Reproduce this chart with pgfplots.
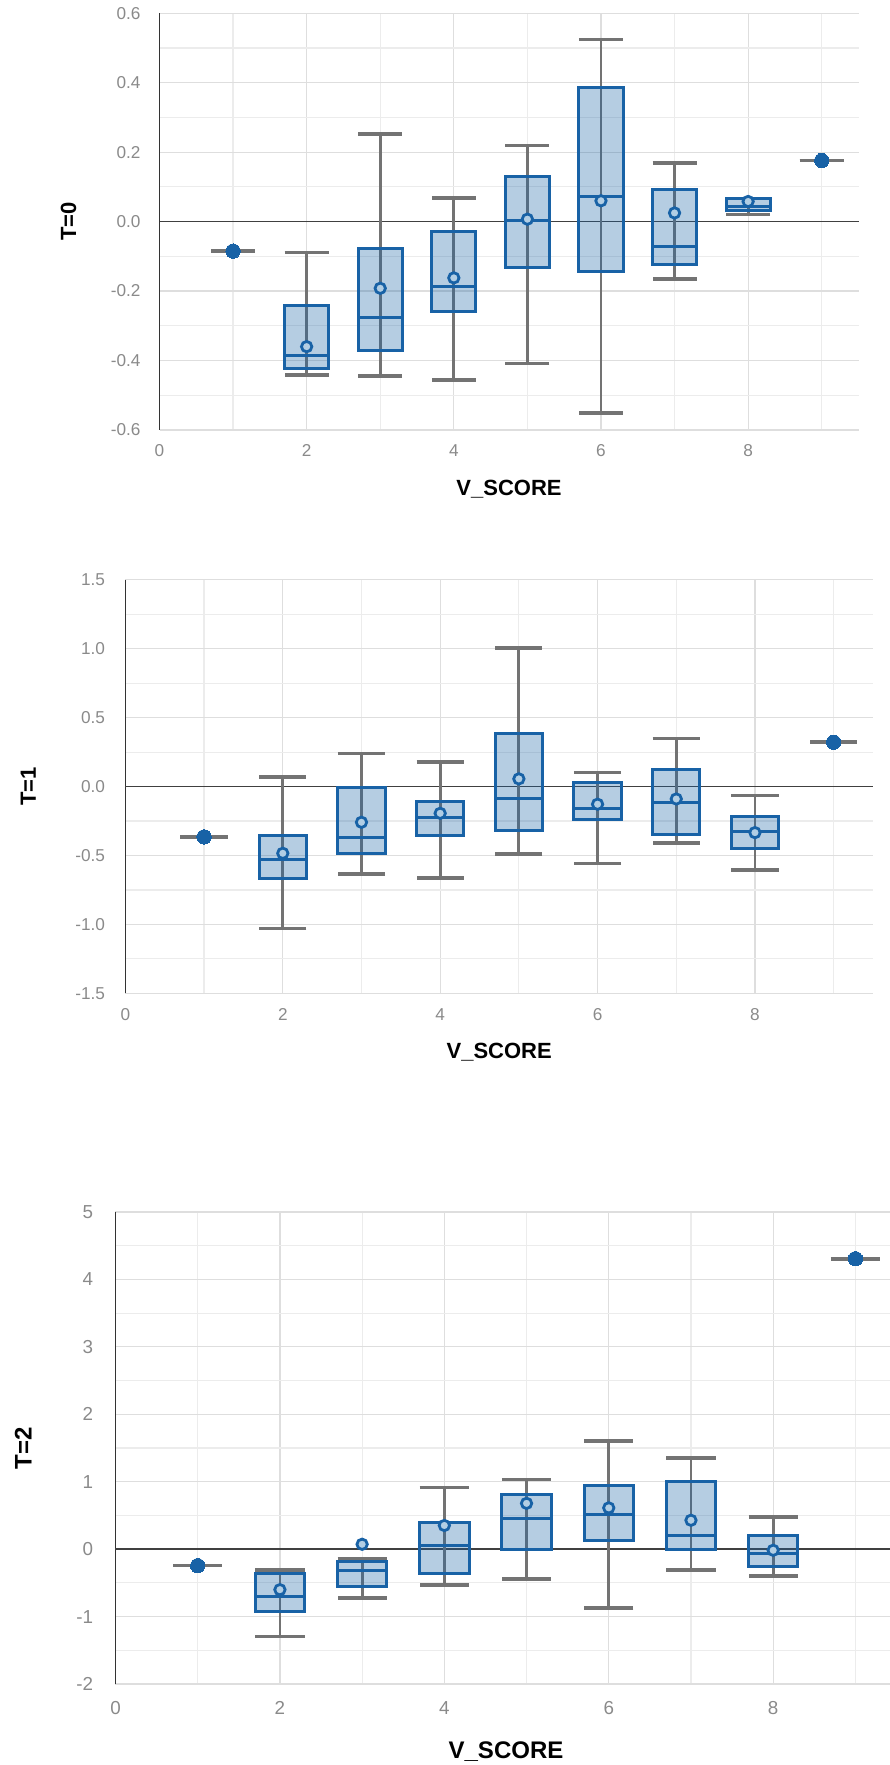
\documentclass[border=0pt]{standalone}
\usepackage{fontspec}
\setmainfont{Liberation Sans}
\usepackage{pgfplots}
\usepackage{pgfplotstable}
\pgfplotsset{compat=1.18}
\usepgfplotslibrary{statistics}

\definecolor{bblue}{RGB}{24,98,166}
\definecolor{wgray}{RGB}{115,115,115}
\definecolor{gridc}{RGB}{222,222,222}
\definecolor{gridm}{RGB}{236,236,236}
\definecolor{tickc}{RGB}{138,138,138}
\definecolor{mfill}{RGB}{178,206,228}

% x lw q1 med q3 uw avg
\pgfplotstableread{
x lw q1 med q3 uw avg
1 -0.085 -0.085 -0.085 -0.085 -0.085 -0.085
2 -0.441 -0.422 -0.386 -0.242 -0.089 -0.360
3 -0.445 -0.370 -0.276 -0.076 0.253 -0.192
4 -0.456 -0.259 -0.186 -0.028 0.068 -0.162
5 -0.408 -0.132 0.004 0.131 0.219 0.007
6 -0.551 -0.143 0.073 0.387 0.524 0.060
7 -0.165 -0.124 -0.073 0.093 0.169 0.025
8 0.021 0.032 0.044 0.067 0.067 0.058
9 0.176 0.176 0.176 0.176 0.176 0.176
}\Tzero
\pgfplotstableread{
x lw q1 med q3 uw avg
1 -0.365 -0.365 -0.365 -0.365 -0.365 -0.365
2 -1.031 -0.670 -0.530 -0.353 0.068 -0.484
3 -0.636 -0.484 -0.370 -0.010 0.240 -0.259
4 -0.665 -0.358 -0.225 -0.109 0.177 -0.194
5 -0.491 -0.322 -0.087 0.382 1.007 0.056
6 -0.559 -0.240 -0.162 0.027 0.102 -0.128
7 -0.411 -0.348 -0.116 0.121 0.348 -0.090
8 -0.607 -0.448 -0.329 -0.215 -0.065 -0.334
9 0.322 0.322 0.322 0.322 0.322 0.322
}\Tone
\pgfplotstableread{
x lw q1 med q3 uw avg
1 -0.245 -0.245 -0.245 -0.245 -0.245 -0.245
2 -1.297 -0.924 -0.701 -0.362 -0.306 -0.601
3 -0.723 -0.551 -0.317 -0.180 -0.150 0.072
4 -0.529 -0.356 0.056 0.401 0.913 0.351
5 -0.440 0.000 0.451 0.807 1.035 0.679
6 -0.874 0.122 0.512 0.940 1.603 0.612
7 -0.312 -0.011 0.200 0.996 1.352 0.428
8 -0.401 -0.262 -0.061 0.195 0.479 -0.017
9 4.307 4.307 4.307 4.307 4.307 4.307
}\Ttwo

% draw the box (q1..q3 with median) of row #2 of table #1
\newcommand\drawbox[2]{%
  \pgfplotstablegetelem{#2}{x}\of#1\let\BX\pgfplotsretval
  \pgfplotstablegetelem{#2}{q1}\of#1\let\BQA\pgfplotsretval
  \pgfplotstablegetelem{#2}{med}\of#1\let\BMD\pgfplotsretval
  \pgfplotstablegetelem{#2}{q3}\of#1\let\BQB\pgfplotsretval
  \edef\doplot{\noexpand\addplot[boxplot prepared={draw position=\BX,
     lower whisker=\BQA, lower quartile=\BQA, median=\BMD,
     upper quartile=\BQB, upper whisker=\BQB}] coordinates {};}%
  \doplot
}

\pgfplotsset{
  vs/.style={
    scale only axis, xmin=0, xmax=9.5,
    axis x line*=bottom, axis y line*=left,
    axis line style={-},
    x axis line style={draw=gridc, line width=0.6pt},
    y axis line style={draw=black!80, line width=0.7pt},
    xtick={0,2,4,6,8}, minor xtick={1,3,5,7,9},
    major tick length=0pt, minor tick length=0pt,
    grid=both,
    major grid style={draw=gridc, line width=0.6pt},
    minor grid style={draw=gridm, line width=0.6pt},
    /pgf/number format/assume math mode=true,
    tick label style={text=tickc, inner sep=0pt},
    xticklabel style={anchor=north},
    yticklabel style={anchor=east},
    extra y ticks={0}, extra y tick labels={},
    extra y tick style={grid=major, major grid style={draw=black!75, line width=0.75pt}},
    xlabel={V\_SCORE},
    every axis x label/.style={anchor=center, font=\bfseries},
    every axis y label/.style={anchor=center, rotate=90, font=\bfseries},
    boxplot/draw direction=y,
    boxplot/every box/.style={draw=bblue, line width=1.5pt, fill=bblue, fill opacity=0.32},
    boxplot/every median/.style={draw=bblue, line width=1.5pt},
    boxplot/every whisker/.style={draw=none},
    boxplot/box extend=0.6,
    boxplot/whisker extend=0.6,
  },
  whisk/.style={only marks, mark=*, mark size=0.1pt,
    mark options={draw opacity=0, fill opacity=0},
    error bars/.cd, y dir=both, y explicit,
    error bar style={draw=wgray, line width=1.4pt},
    error mark options={rotate=90, draw=wgray, draw opacity=1, line width=1.8pt, mark size=#1}},
  meanm/.style={only marks, mark=*, mark size=2.6pt,
    mark options={draw=bblue, fill=mfill, line width=1.4pt},
    skip coords between index={0}{1}, skip coords between index={8}{9}},
  single/.style={only marks, mark=*, mark size=3.6pt,
    mark options={draw=bblue, fill=bblue, line width=0pt},
    skip coords between index={1}{8}},
}

\begin{document}
\begin{tikzpicture}
% ---------- T=0 ----------
\begin{axis}[vs, at={(79.75pt,667.5pt)}, anchor=south west,
  width=349.5pt, height=208.35pt,
  ymin=-0.6, ymax=0.6,
  ytick={-0.6,-0.4,-0.2,0,0.2,0.4,0.6},
  yticklabels={-0.6,-0.4,-0.2,0.0,0.2,0.4,0.6},
  minor ytick={-0.5,-0.3,-0.1,0.1,0.3,0.5},
  tick label style={font=\fontsize{8.6}{10}\selectfont},
  xticklabel style={yshift=-7pt},
  yticklabel style={xshift=-9.3pt},
  ylabel={T=0},
  xlabel style={at={(axis description cs:0.5,-0.141)}, font=\bfseries\fontsize{11}{13}\selectfont},
  ylabel style={at={(axis description cs:-0.130,0.5)}, font=\bfseries\fontsize{11}{13}\selectfont},
]
\addplot[whisk=11pt] table[x=x, y=med, y error plus expr=\thisrow{uw}-\thisrow{med}, y error minus expr=\thisrow{med}-\thisrow{lw}] {\Tzero};
\drawbox{\Tzero}{1}\drawbox{\Tzero}{2}\drawbox{\Tzero}{3}\drawbox{\Tzero}{4}
\drawbox{\Tzero}{5}\drawbox{\Tzero}{6}\drawbox{\Tzero}{7}
\addplot[meanm] table[x=x, y=avg] {\Tzero};
\addplot[single] table[x=x, y=avg] {\Tzero};
\end{axis}

% ---------- T=1 ----------
\begin{axis}[vs, at={(62.7pt,385.85pt)}, anchor=south west,
  width=373.8pt, height=206.7pt,
  ymin=-1.5, ymax=1.5,
  ytick={-1.5,-1,-0.5,0,0.5,1,1.5},
  yticklabels={-1.5,-1.0,-0.5,0.0,0.5,1.0,1.5},
  minor ytick={-1.25,-0.75,-0.25,0.25,0.75,1.25},
  tick label style={font=\fontsize{8.6}{10}\selectfont},
  xticklabel style={yshift=-7.5pt},
  yticklabel style={xshift=-10pt},
  ylabel={T=1},
  xlabel style={at={(axis description cs:0.5,-0.143)}, font=\bfseries\fontsize{11}{13}\selectfont},
  ylabel style={at={(axis description cs:-0.130,0.5)}, font=\bfseries\fontsize{11}{13}\selectfont},
]
\addplot[whisk=11.8pt] table[x=x, y=med, y error plus expr=\thisrow{uw}-\thisrow{med}, y error minus expr=\thisrow{med}-\thisrow{lw}] {\Tone};
\drawbox{\Tone}{1}\drawbox{\Tone}{2}\drawbox{\Tone}{3}\drawbox{\Tone}{4}
\drawbox{\Tone}{5}\drawbox{\Tone}{6}\drawbox{\Tone}{7}
\addplot[meanm] table[x=x, y=avg] {\Tone};
\addplot[single] table[x=x, y=avg] {\Tone};
\end{axis}

% ---------- T=2 ----------
\begin{axis}[vs, at={(57.75pt,40.5pt)}, anchor=south west,
  width=390.5pt, height=236pt,
  ymin=-2, ymax=5,
  ytick={-2,-1,0,1,2,3,4,5},
  minor ytick={-1.5,-0.5,0.5,1.5,2.5,3.5,4.5},
  tick label style={font=\fontsize{9.4}{11}\selectfont},
  xticklabel style={yshift=-8.5pt},
  yticklabel style={xshift=-11pt},
  ylabel={T=2},
  xlabel style={at={(axis description cs:0.5,-0.144)}, font=\bfseries\fontsize{12}{14}\selectfont},
  ylabel style={at={(axis description cs:-0.118,0.5)}, font=\bfseries\fontsize{12}{14}\selectfont},
]
\addplot[whisk=12.3pt] table[x=x, y=med, y error plus expr=\thisrow{uw}-\thisrow{med}, y error minus expr=\thisrow{med}-\thisrow{lw}] {\Ttwo};
\drawbox{\Ttwo}{1}\drawbox{\Ttwo}{2}\drawbox{\Ttwo}{3}\drawbox{\Ttwo}{4}
\drawbox{\Ttwo}{5}\drawbox{\Ttwo}{6}\drawbox{\Ttwo}{7}
\addplot[meanm] table[x=x, y=avg] {\Ttwo};
\addplot[single] table[x=x, y=avg] {\Ttwo};
\end{axis}

\pgfresetboundingbox
\useasboundingbox (0,0) rectangle (444.5pt,882.5pt);
\end{tikzpicture}
\end{document}
